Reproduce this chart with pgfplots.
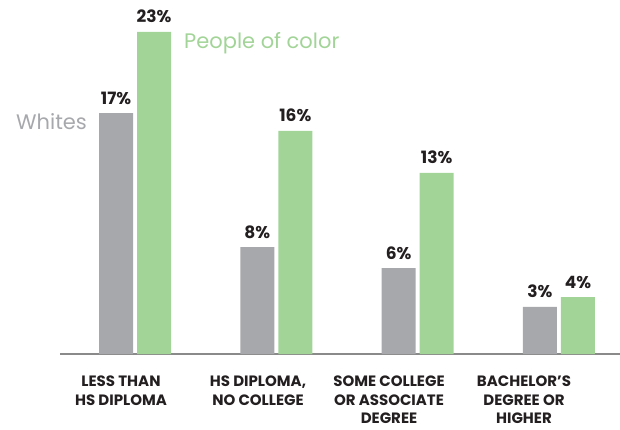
\documentclass[border=0pt]{standalone}
\usepackage{pgfplots}
\pgfplotsset{compat=1.18}
\usepackage{fontspec}
\setmainfont{Poppins}
\definecolor{wgray}{HTML}{A7A8AC}
\definecolor{pgreen}{HTML}{A2D497}
\definecolor{axgray}{HTML}{8A8A8A}
\definecolor{dark}{HTML}{231F20}
\begin{document}
\begin{tikzpicture}[x=1pt,y=1pt]
\useasboundingbox (-60,-75) rectangle (560,354);
\begin{axis}[at={(0,0)}, anchor=south west, scale only axis,
  width=560pt, height=334pt,
  xmin=-0.531, xmax=3.432, ymin=0, ymax=23.857,
  axis x line=bottom, axis y line=none,
  axis line style={-, draw=axgray, line width=1.8pt},
  xtick=\empty, ytick=\empty,
  ybar, bar width=34pt,
  clip=false,
  nodes near coords,
  point meta=explicit symbolic,
  every node near coord/.append style={font=\fontsize{17}{19}\selectfont\bfseries, text=dark, anchor=base, yshift=9pt, inner sep=0pt},
]
\addplot[fill=wgray, draw=none, bar shift=-19pt] coordinates {
  (0,17.21) [17\%]
  (1,7.64) [8\%]
  (2,6.14) [6\%]
  (3,3.36) [3\%]
};
\addplot[fill=pgreen, draw=none, bar shift=19pt] coordinates {
  (0,23.0) [23\%]
  (1,15.93) [16\%]
  (2,12.93) [13\%]
  (3,4.07) [4\%]
};
\end{axis}
\begin{scope}[every node/.style={font=\fontsize{15}{18.5}\selectfont\bfseries, text=dark, align=center, anchor=north, inner sep=0pt}]
\node at (61,-22) {LESS THAN\\HS DIPLOMA};
\node at (198,-22) {HS DIPLOMA,\\NO COLLEGE};
\node at (329,-22) {SOME COLLEGE\\OR ASSOCIATE\\DEGREE};
\node at (464,-22) {BACHELOR'S\\DEGREE OR\\HIGHER};
\end{scope}
\node[anchor=base west, inner sep=0pt, font=\fontsize{21}{24}\selectfont, text=wgray] at (-44,225) {Whites};
\node[anchor=base west, inner sep=0pt, font=\fontsize{21}{24}\selectfont, text=pgreen] at (124,305) {People of color};
\end{tikzpicture}
\end{document}
